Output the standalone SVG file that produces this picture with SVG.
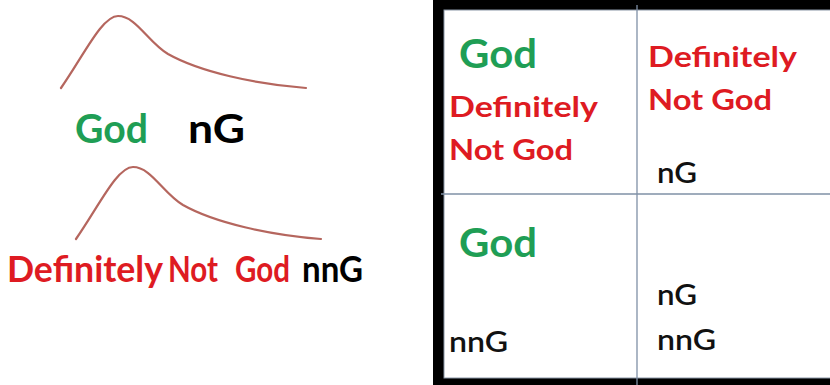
<svg xmlns="http://www.w3.org/2000/svg" width="830" height="385" viewBox="0 0 830 385">
<style>
text{font-family:Lato,"Open Sans","Liberation Sans",sans-serif;}
.g{fill:#1f9e55;font-weight:bold;}
.r{fill:#de1b22;font-weight:bold;}
.k{fill:#000;font-weight:bold;}
.kn{fill:#111;font-weight:600;}
.curve{fill:none;stroke:#b5665e;stroke-width:2.2;stroke-linecap:round;}
.div{stroke:#7f90a6;stroke-width:1.3;}
</style>
<rect width="830" height="385" fill="#fff"/>
<g id="curves">
<path id="curve1" class="curve" d="M61,88 C84,55 102,16 118,16 C136,16 148,42 168,54 C200,72 255,84 306,88"/>
<path id="curve2" class="curve" d="M76,239 C99,206 117,167 133,167 C151,167 163,193 183,205 C215,223 270,235 321,239"/>
</g>
<g id="left-labels">
<text class="g" x="75" y="143" font-size="41" textLength="73" lengthAdjust="spacingAndGlyphs">God</text>
<text class="k" x="188" y="143" font-size="41" textLength="57" lengthAdjust="spacingAndGlyphs">nG</text>
<text class="r" x="7" y="282" font-size="36" textLength="156" lengthAdjust="spacingAndGlyphs">Definitely</text>
<text class="r" x="168" y="282" font-size="36" textLength="50" lengthAdjust="spacingAndGlyphs">Not</text>
<text class="r" x="235" y="282" font-size="36" textLength="55" lengthAdjust="spacingAndGlyphs">God</text>
<text class="k" x="302" y="282" font-size="36" textLength="61" lengthAdjust="spacingAndGlyphs">nnG</text>
</g>
<g id="table">
<rect x="433" y="-12" width="420" height="412" rx="9" fill="#000"/>
<rect x="444" y="10" width="400" height="368" fill="#fff" stroke="#8a96a6" stroke-width="1"/>
</g>
<g id="connectors">
<line class="div" x1="637" y1="5" x2="637" y2="385"/>
<line class="div" x1="441" y1="194" x2="830" y2="194"/>
</g>
<g id="cell-top-left">
<text class="g" x="459" y="68" font-size="41" textLength="78" lengthAdjust="spacingAndGlyphs">God</text>
<text class="r" x="449" y="117" font-size="29" textLength="149" lengthAdjust="spacingAndGlyphs">Definitely</text>
<text class="r" x="449" y="160" font-size="29" textLength="124" lengthAdjust="spacingAndGlyphs">Not God</text>
</g>
<g id="cell-top-right">
<text class="r" x="648" y="67" font-size="29" textLength="149" lengthAdjust="spacingAndGlyphs">Definitely</text>
<text class="r" x="648" y="110" font-size="29" textLength="124" lengthAdjust="spacingAndGlyphs">Not God</text>
<text class="kn" x="657" y="183" font-size="28" textLength="40" lengthAdjust="spacingAndGlyphs">nG</text>
</g>
<g id="cell-bottom-left">
<text class="g" x="459" y="257" font-size="41" textLength="78" lengthAdjust="spacingAndGlyphs">God</text>
<text class="kn" x="449" y="352" font-size="28" textLength="59" lengthAdjust="spacingAndGlyphs">nnG</text>
</g>
<g id="cell-bottom-right">
<text class="kn" x="657" y="305" font-size="28" textLength="40" lengthAdjust="spacingAndGlyphs">nG</text>
<text class="kn" x="657" y="350" font-size="28" textLength="59" lengthAdjust="spacingAndGlyphs">nnG</text>
</g>
</svg>
